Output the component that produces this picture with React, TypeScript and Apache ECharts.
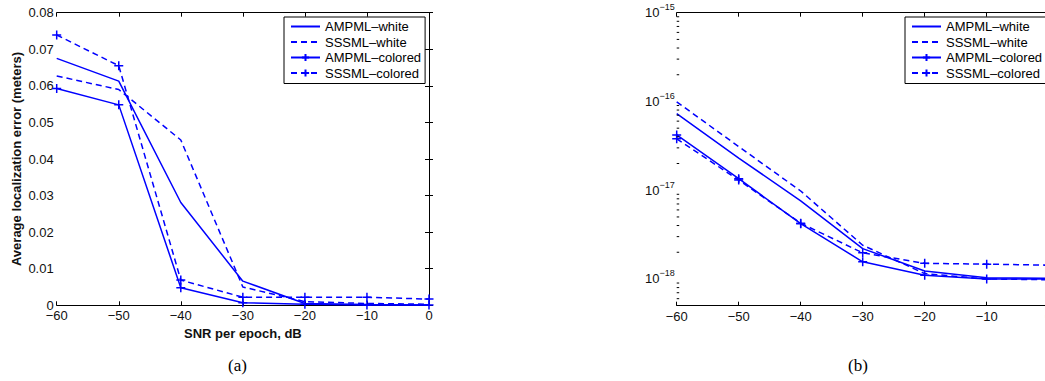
import React, { useEffect, useRef } from 'react';
import * as echarts from 'echarts';

const snr = [-60, -50, -40, -30, -20, -10, 0];
const seriesNames = ['AMPML–white', 'SSSML–white', 'AMPML–colored', 'SSSML–colored'];

// (a) Average localization error (meters)
const errAmpmlWhite = [0.0675, 0.0613, 0.0281, 0.0066, 0.0005, 0.0002, 0.0001];
const errSssmlWhite = [0.0627, 0.059, 0.0452, 0.005, 0.001, 0.0005, 0.0003];
const errAmpmlColored = [0.0593, 0.0548, 0.0048, 0.0007, 0.0003, 0.0001, 0.0001];
const errSssmlColored = [0.0739, 0.0655, 0.0069, 0.0022, 0.0022, 0.0022, 0.0017];

// (b) log-scale values
const bAmpmlWhite = [7.3e-17, 2.3e-17, 7.6e-18, 2.2e-18, 1.23e-18, 1.03e-18, 1.02e-18];
const bSssmlWhite = [9.9e-17, 3.1e-17, 9.8e-18, 2.4e-18, 1.15e-18, 1.0e-18, 0.98e-18];
const bAmpmlColored = [4.2e-17, 1.35e-17, 4.2e-18, 1.56e-18, 1.1e-18, 1.0e-18, 1.0e-18];
const bSssmlColored = [3.8e-17, 1.3e-17, 4.25e-18, 1.97e-18, 1.5e-18, 1.47e-18, 1.43e-18];

const minorMantissas = [2, 3, 4, 5, 6, 7, 8, 9];
const minorDecades = [-19, -18, -17, -16];

const SANS = "'Liberation Sans', Arial, Helvetica, sans-serif";
const SERIF = "'Liberation Serif', 'Times New Roman', serif";
const BLUE = '#0000ff';
const PLUS = 'path://M5,0L5,10M0,5L10,5';
const CLEAR = 'rgba(0,0,0,0)';

const fmtNum = (v: number) => String(v).replace('-', '−');

function makeSeries(name: string, data: number[], dashed: boolean, plus: boolean, xi: number, yi: number) {
  return {
    type: 'line',
    name,
    xAxisIndex: xi,
    yAxisIndex: yi,
    data: snr.map((x, i) => [x, data[i]]),
    symbol: plus ? PLUS : 'circle',
    showSymbol: plus,
    symbolSize: 9,
    lineStyle: { color: BLUE, width: 1.5, type: dashed ? [6, 4] : 'solid' },
    itemStyle: { color: BLUE, borderColor: BLUE, borderWidth: 1.5 },
    emphasis: { disabled: true },
    z: 3,
  };
}

function xAxisCfg(grid: number, top: boolean, withName: boolean) {
  return {
    type: 'value',
    gridIndex: grid,
    position: top ? 'top' : 'bottom',
    min: -60,
    max: 0,
    interval: 10,
    splitLine: { show: false },
    axisLine: { show: true, onZero: false, lineStyle: { color: '#000', width: 1 } },
    axisTick: { show: true, inside: true, length: 4, lineStyle: { color: '#000' } },
    axisLabel: {
      show: !top,
      margin: 4,
      formatter: fmtNum,
      fontFamily: SANS,
      fontSize: 13,
      color: '#111',
    },
    name: withName ? 'SNR per epoch, dB' : '',
    nameLocation: 'middle',
    nameGap: 18,
    nameTextStyle: { fontFamily: SANS, fontSize: 13, fontWeight: 'bold', color: '#111' },
  };
}

export default function App() {
  const ref = useRef<HTMLDivElement>(null);
  useEffect(() => {
    if (!ref.current) return;
    const chart = echarts.init(ref.current, null, { renderer: 'svg' });
    const minorData: number[][] = [];
    minorDecades.forEach((d) =>
      minorMantissas.forEach((m) => {
        const v = m * Math.pow(10, d);
        if (v > 5e-19 && v < 1e-15) minorData.push([-60, v]);
      })
    );
    const legendData = seriesNames.map((n, i) =>
      i < 2 ? { name: n, itemStyle: { color: CLEAR, borderColor: CLEAR, borderWidth: 0 } } : { name: n }
    );
    const legendCommon = {
      orient: 'vertical',
      top: 17,
      itemWidth: 29,
      itemHeight: 9,
      itemGap: 2.5,
      itemTextGap: 3,
      padding: [3, 4, 4, 6],
      borderColor: '#000',
      borderWidth: 1,
      backgroundColor: '#fff',
      textStyle: { fontFamily: SANS, fontSize: 13, color: '#000' },
      data: legendData,
      selectedMode: false,
    };
    chart.setOption({
      animation: false,
      backgroundColor: '#fff',
      grid: [
        { left: 56.7, top: 12.7, width: 372.3, height: 292.6, outerBoundsMode: 'none', containLabel: false },
        { left: 676.7, top: 12.7, width: 372, height: 293, outerBoundsMode: 'none', containLabel: false },
      ],
      legend: [
        { ...legendCommon, left: 284 },
        { ...legendCommon, left: 905 },
      ],
      xAxis: [
        xAxisCfg(0, false, true),
        xAxisCfg(0, true, false),
        xAxisCfg(1, false, false),
        xAxisCfg(1, true, false),
      ],
      yAxis: [
        {
          type: 'value',
          gridIndex: 0,
          position: 'left',
          min: 0,
          max: 0.08,
          interval: 0.01,
          splitLine: { show: false },
          axisLine: { show: true, lineStyle: { color: '#000', width: 1 } },
          axisTick: { show: true, inside: true, length: 4, lineStyle: { color: '#000' } },
          axisLabel: { margin: 3, fontFamily: SANS, fontSize: 13, color: '#111' },
          name: 'Average localization error (meters)',
          nameLocation: 'middle',
          nameGap: 34,
          nameTextStyle: { fontFamily: SANS, fontSize: 13, fontWeight: 'bold', color: '#111' },
        },
        {
          type: 'value',
          gridIndex: 0,
          position: 'right',
          min: 0,
          max: 0.08,
          interval: 0.01,
          splitLine: { show: false },
          axisLine: { show: true, lineStyle: { color: '#000', width: 1 } },
          axisTick: { show: true, inside: true, length: 4, lineStyle: { color: '#000' } },
          axisLabel: { show: false },
        },
        {
          type: 'log',
          logBase: 10,
          gridIndex: 1,
          position: 'left',
          min: 5e-19,
          max: 1e-15,
          splitLine: { show: false },
          axisLine: { show: true, lineStyle: { color: '#000', width: 1 } },
          axisTick: { show: true, inside: true, length: 4, lineStyle: { color: '#000' } },
          axisLabel: {
            margin: 2,
            formatter: (v: number) => {
              const l = Math.log10(v);
              const e = Math.round(l);
              if (Math.abs(l - e) > 1e-6) return '';
              return `{b|10}{e|−${-e}}`;
            },
            rich: {
              b: { fontFamily: SANS, fontSize: 13, color: '#111' },
              e: { fontFamily: SANS, fontSize: 9, color: '#111', padding: [0, 0, 11, 0] },
            },
          },
        },
      ],
      series: [
        makeSeries(seriesNames[0], errAmpmlWhite, false, false, 0, 0),
        makeSeries(seriesNames[1], errSssmlWhite, true, false, 0, 0),
        makeSeries(seriesNames[2], errAmpmlColored, false, true, 0, 0),
        makeSeries(seriesNames[3], errSssmlColored, true, true, 0, 0),
        makeSeries(seriesNames[0], bAmpmlWhite, false, false, 2, 2),
        makeSeries(seriesNames[1], bSssmlWhite, true, false, 2, 2),
        makeSeries(seriesNames[2], bAmpmlColored, false, true, 2, 2),
        makeSeries(seriesNames[3], bSssmlColored, true, true, 2, 2),
        {
          type: 'custom',
          name: 'minorTicks',
          xAxisIndex: 2,
          yAxisIndex: 2,
          silent: true,
          clip: false,
          data: minorData,
          renderItem: (_p: any, api: any) => {
            const pt = api.coord([api.value(0), api.value(1)]);
            return {
              type: 'line',
              shape: { x1: pt[0], y1: pt[1], x2: pt[0] + 2.5, y2: pt[1] },
              style: { stroke: '#000', lineWidth: 1 },
            };
          },
          z: 4,
        },
      ],
      graphic: [
        {
          type: 'text',
          left: 228,
          top: 357,
          style: { text: '(a)', font: `17px ${SERIF}`, fill: '#000' },
        },
        {
          type: 'text',
          left: 848,
          top: 357,
          style: { text: '(b)', font: `17px ${SERIF}`, fill: '#000' },
        },
      ],
    });
    return () => chart.dispose();
  }, []);
  return (
    <div
      ref={ref}
      style={{ position: 'fixed', left: 0, top: 0, width: 1045, height: 381, background: '#fff' }}
    />
  );
}
